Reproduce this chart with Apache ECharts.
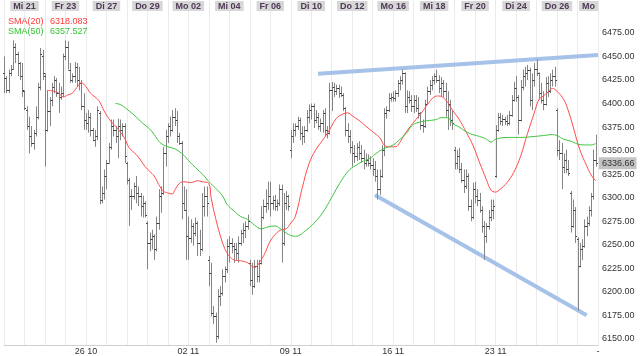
<!DOCTYPE html>
<html><head><meta charset="utf-8">
<script src="https://cdn.jsdelivr.net/npm/echarts@6/dist/echarts.min.js"></script>
<style>html,body{margin:0;padding:0;background:#fff}#c{width:640px;height:356px}</style>
</head><body><div id="c"></div>
<script>
// ---- data ----
const dayDates = ['20.10','21.10','22.10','23.10','26.10','27.10','28.10','29.10','30.10','02.11','03.11','04.11','05.11','06.11','09.11','10.11','11.11','12.11','13.11','16.11','17.11','18.11','19.11','20.11','23.11','24.11','25.11','26.11','27.11','30.11'];
const hours = ['09','10','11','12','13','14','15','16','17'];
const topLabels = ['Mi 21','Fr 23','Di 27','Do 29','Mo 02','Mi 04','Fr 06','Di 10','Do 12','Mo 16','Mi 18','Fr 20','Di 24','Do 26','Mo'];
const weekLabels = ['26 10','02 11','09 11','16 11','23 11','-'];
const weekStartDays = [4, 9, 14, 19, 24, 29];
const yTicks = [6150,6175,6200,6225,6250,6275,6300,6325,6350,6375,6400,6425,6450,6475];
// hourly bars: [open, high, low, close]
const ohlc = [
 [6432,6450,6411,6427],[6427,6429,6411,6414],[6414,6436,6411,6432],[6432,6441,6429,6437],[6437,6467,6436,6460],[6460,6464,6443,6453],[6453,6455,6429,6443],[6443,6444,6425,6429],[6429,6443,6407,6414],
 [6413,6414,6393,6395],[6393,6397,6372,6376],[6376,6386,6347,6365],[6365,6376,6354,6358],[6358,6372,6351,6369],[6369,6397,6365,6386],[6386,6422,6383,6418],[6418,6459,6414,6453],[6450,6457,6425,6432],
 [6429,6432,6333,6372],[6372,6414,6370,6392],[6392,6407,6376,6404],[6404,6422,6397,6418],[6418,6429,6411,6425],[6425,6427,6407,6411],[6411,6422,6390,6407],[6407,6418,6404,6411],[6411,6453,6407,6450],
 [6450,6467,6446,6460],[6460,6466,6436,6436],[6436,6443,6422,6425],[6425,6432,6422,6429],[6429,6444,6422,6439],[6439,6443,6418,6425],[6425,6439,6414,6422],[6422,6425,6393,6397],[6397,6411,6372,6383],
 [6383,6390,6372,6379],[6379,6393,6369,6386],[6386,6390,6365,6372],[6372,6374,6360,6361],[6361,6372,6354,6365],[6365,6397,6361,6393],[6390,6392,6293,6298],[6298,6312,6294,6305],[6305,6330,6298,6323],
 [6323,6340,6309,6337],[6337,6358,6337,6354],[6354,6383,6351,6376],[6376,6383,6365,6372],[6372,6376,6358,6365],[6365,6384,6342,6376],[6376,6383,6361,6372],[6372,6379,6365,6376],[6376,6379,6337,6344],
 [6337,6338,6314,6319],[6319,6321,6270,6302],[6302,6309,6287,6302],[6302,6316,6298,6312],[6312,6323,6294,6305],[6305,6312,6291,6302],[6302,6305,6280,6291],[6291,6302,6279,6294],[6294,6296,6279,6282],
 [6273,6275,6224,6252],[6252,6263,6243,6256],[6256,6266,6245,6259],[6259,6261,6234,6245],[6245,6280,6243,6273],[6273,6309,6266,6302],[6302,6312,6284,6305],[6305,6354,6303,6347],[6347,6372,6333,6365],
 [6365,6379,6358,6376],[6376,6386,6365,6372],[6372,6393,6370,6386],[6386,6395,6376,6383],[6383,6392,6358,6365],[6365,6369,6356,6358],[6358,6360,6277,6294],[6294,6312,6286,6287],[6287,6309,6234,6259],
 [6259,6280,6234,6257],[6257,6277,6252,6270],[6270,6273,6249,6263],[6263,6279,6259,6273],[6273,6275,6238,6252],[6252,6266,6238,6245],[6245,6305,6243,6291],[6291,6312,6280,6302],[6302,6312,6280,6294],
 [6234,6238,6206,6220],[6220,6231,6174,6178],[6178,6185,6166,6174],[6174,6178,6146,6153],[6153,6203,6150,6196],[6196,6206,6185,6199],[6199,6224,6196,6217],[6217,6227,6210,6224],[6224,6256,6220,6249],
 [6249,6259,6231,6252],[6252,6257,6241,6249],[6249,6252,6231,6245],[6245,6252,6234,6241],[6241,6259,6231,6252],[6252,6266,6249,6263],[6263,6273,6252,6266],[6266,6275,6257,6270],[6270,6282,6266,6275],
 [6231,6234,6206,6213],[6213,6231,6197,6206],[6206,6234,6204,6227],[6227,6234,6210,6217],[6217,6234,6210,6231],[6231,6291,6229,6280],[6280,6298,6277,6291],[6291,6309,6284,6294],[6294,6317,6287,6302],
 [6302,6317,6280,6294],[6294,6302,6287,6298],[6298,6303,6286,6291],[6291,6298,6286,6294],[6294,6314,6291,6309],[6309,6314,6231,6252],[6252,6305,6249,6294],[6294,6307,6287,6302],[6302,6303,6286,6291],
 [6351,6372,6342,6365],[6365,6379,6358,6372],[6372,6379,6365,6376],[6376,6386,6372,6383],[6383,6385,6361,6369],[6369,6376,6356,6365],[6365,6376,6358,6372],[6372,6393,6370,6386],[6386,6399,6379,6393],
 [6393,6400,6383,6397],[6397,6400,6374,6383],[6383,6393,6379,6386],[6386,6390,6372,6376],[6376,6384,6370,6379],[6379,6393,6369,6390],[6390,6395,6365,6372],[6372,6376,6363,6369],[6369,6422,6367,6414],
 [6414,6423,6392,6418],[6418,6422,6407,6413],[6413,6420,6409,6416],[6416,6420,6406,6411],[6411,6418,6407,6409],[6409,6411,6392,6395],[6395,6396,6365,6372],[6372,6379,6358,6365],[6365,6372,6347,6354],
 [6354,6360,6333,6347],[6347,6356,6337,6344],[6344,6358,6339,6354],[6354,6360,6340,6347],[6347,6356,6337,6342],[6342,6351,6330,6337],[6337,6347,6333,6340],[6340,6346,6333,6337],[6337,6344,6330,6335],
 [6335,6342,6323,6330],[6330,6339,6317,6323],[6323,6330,6298,6309],[6309,6330,6303,6323],[6323,6356,6321,6351],[6351,6395,6344,6390],[6390,6397,6384,6393],[6393,6411,6391,6406],[6406,6411,6402,6407],
 [6407,6413,6402,6406],[6406,6414,6402,6411],[6411,6425,6407,6422],[6422,6429,6414,6425],[6425,6436,6420,6432],[6432,6433,6390,6397],[6397,6414,6390,6407],[6407,6413,6400,6404],[6404,6409,6391,6397],
 [6397,6409,6390,6404],[6404,6409,6391,6395],[6395,6407,6384,6390],[6390,6391,6372,6377],[6377,6383,6369,6376],[6376,6404,6374,6400],[6400,6418,6399,6413],[6413,6425,6409,6420],[6420,6429,6414,6425],
 [6425,6432,6420,6429],[6429,6436,6422,6425],[6425,6430,6411,6416],[6416,6428,6407,6422],[6422,6425,6407,6413],[6413,6422,6386,6393],[6393,6413,6372,6400],[6400,6404,6376,6383],[6383,6393,6372,6379],
 [6351,6354,6330,6337],[6337,6351,6330,6344],[6344,6353,6326,6330],[6330,6337,6316,6319],[6319,6330,6305,6312],[6312,6330,6309,6323],[6323,6326,6286,6291],[6291,6298,6275,6280],[6280,6316,6277,6309],
 [6309,6317,6294,6302],[6302,6309,6291,6298],[6298,6305,6284,6287],[6287,6291,6263,6270],[6270,6275,6234,6259],[6259,6273,6252,6270],[6270,6287,6266,6280],[6280,6298,6275,6287],[6287,6298,6277,6291],
 [6323,6377,6321,6372],[6372,6390,6370,6386],[6386,6390,6377,6381],[6381,6388,6376,6384],[6384,6386,6377,6381],[6381,6388,6376,6379],[6379,6392,6377,6388],[6388,6409,6386,6404],[6404,6423,6402,6416],
 [6416,6429,6402,6407],[6407,6409,6367,6383],[6383,6425,6381,6418],[6418,6436,6414,6429],[6429,6439,6418,6432],[6432,6441,6425,6436],[6436,6438,6397,6404],[6404,6432,6393,6425],[6425,6443,6418,6437],
 [6437,6447,6429,6432],[6432,6433,6404,6411],[6411,6422,6400,6404],[6404,6413,6393,6400],[6400,6428,6398,6422],[6422,6429,6407,6413],[6413,6432,6411,6425],[6425,6436,6418,6429],[6429,6439,6418,6425],
 [6393,6395,6344,6351],[6351,6361,6340,6347],[6347,6358,6309,6333],[6333,6347,6326,6340],[6340,6351,6326,6330],[6330,6340,6323,6326],[6305,6307,6263,6270],[6270,6298,6268,6287],[6287,6290,6252,6259],
 [6256,6258,6180,6228],[6228,6252,6226,6245],[6245,6256,6234,6249],[6249,6277,6247,6270],[6270,6280,6259,6273],[6273,6291,6270,6287],[6287,6305,6280,6302],[6302,6351,6298,6340],[6340,6367,6333,6336.66]
];
// SMA values: [bar index, value]
const sma20 = [[19,6414],[22,6413],[24,6411],[26,6407],[28,6409],[30,6411],[32,6417],[34,6422],[36,6418],[38,6411],[40,6407],[42,6402],[44,6392],[47,6381],[49,6376],[51,6370],[53,6363],[55,6353],[58,6346],[60,6340],[62,6333],[64,6328],[66,6323],[68,6314],[70,6307],[72,6305],[74,6304],[75,6308],[77,6315],[79,6317],[82,6316],[85,6318],[87,6317],[90,6315],[91,6300],[93,6278],[95,6260],[97,6246],[99,6238],[101,6234],[104,6233],[107,6231],[110,6226],[113,6234],[115,6243],[117,6254],[120,6263],[122,6266],[124,6267],[126,6273],[128,6280],[131,6310],[134,6336],[137,6351],[140,6361],[143,6372],[146,6384],[149,6389],[151,6390],[153,6387],[156,6382],[159,6376],[162,6370],[165,6364],[167,6356],[169,6354],[172,6354],[174,6359],[176,6367],[178,6374],[181,6383],[184,6392],[187,6402],[189,6407],[191,6408],[194,6404],[197,6393],[200,6383],[203,6370],[206,6356],[209,6337],[212,6319],[214,6308],[216,6306],[218,6309],[221,6316],[224,6327],[227,6344],[230,6368],[233,6390],[235,6404],[237,6408],[239,6412],[241,6416],[243,6413],[246,6404],[248,6392],[250,6376],[253,6351],[256,6334],[258,6324],[260,6318.083]];
const sma50 = [[49,6400],[51,6399],[53,6396],[55,6392],[58,6386],[60,6381],[62,6377],[64,6373],[66,6367],[68,6360],[70,6356],[72,6354],[75,6352],[77,6349],[79,6345],[82,6337],[85,6330],[88,6323],[90,6317],[93,6310],[96,6302],[98,6293],[101,6286],[104,6280],[107,6277],[110,6271],[113,6267],[116,6269],[119,6270],[122,6266],[125,6261],[128,6259],[133,6266],[137,6275],[140,6284],[143,6296],[146,6309],[149,6321],[152,6330],[155,6335],[158,6339],[161,6342],[163,6346],[166,6351],[169,6354],[171,6356],[174,6362],[177,6369],[179,6376],[181,6379],[184,6381],[187,6382],[190,6383],[192,6385],[195,6385],[197,6379],[200,6375],[203,6370],[206,6367],[209,6365],[212,6362],[214,6359],[216,6362],[221,6364],[227,6364],[233,6365],[237,6366],[241,6367],[243,6366],[246,6362],[249,6360],[252,6357],[255,6356],[258,6356],[260,6357.527]];
// drawn trend lines: [bar index, price]
const upperTrend = [[138,6431.6],[261,6451.6]];
const lowerTrend = [[163,6302.8],[256,6175.3]];

// ---- build ----
const barsPerDay = 9;
const categories = [];
dayDates.forEach((d, di) => {
  const n = di === dayDates.length - 1 ? 1 : barsPerDay;
  for (let h = 0; h < n; h++) categories.push(d + ' ' + hours[h] + ':00');
});
const barRows = ohlc.map((b, i) => [i, b[0], b[1], b[2], b[3]]);
const lastClose = ohlc[ohlc.length - 1][3];
const last20 = sma20[sma20.length - 1][1].toFixed(3);
const last50 = sma50[sma50.length - 1][1].toFixed(3);
const FONT = '"Liberation Sans", Arial, sans-serif';

const chart = echarts.init(document.getElementById('c'), null, {renderer: 'canvas'});
chart.setOption({
  animation: false,
  textStyle: {fontFamily: FONT},
  grid: {left: 4, right: 42, top: 0, bottom: 10},
  legend: {
    data: ['SMA(20)', 'SMA(50)'], orient: 'vertical', left: -2, top: 12,
    icon: 'none', itemWidth: 0, itemHeight: 8, itemGap: 1, selectedMode: false,
    textStyle: {fontSize: 9, fontFamily: FONT,
      rich: {a: {color: '#ff3a3a', width: 42, fontSize: 9}, av: {color: '#ff3a3a', fontSize: 9},
             b: {color: '#33c433', width: 42, fontSize: 9}, bv: {color: '#33c433', fontSize: 9}}},
    formatter: name => name === 'SMA(20)' ? '{a|' + name + '}{av|' + last20 + '}' : '{b|' + name + '}{bv|' + last50 + '}'
  },
  xAxis: [{
    type: 'category', data: categories, boundaryGap: false, position: 'bottom',
    axisLine: {lineStyle: {color: '#d0d0d0'}}, axisTick: {show: false},
    axisLabel: {
      interval: i => i % barsPerDay === 0 && weekStartDays.indexOf(i / barsPerDay) >= 0,
      formatter: (v, i) => weekLabels[weekStartDays.indexOf(i / barsPerDay)],
      fontSize: 9, color: '#333', margin: 2, fontFamily: FONT
    },
    splitLine: {show: true, interval: i => i % barsPerDay === 0, lineStyle: {color: '#ebebeb', width: 1}}
  }, {
    type: 'category', data: categories, boundaryGap: false, position: 'top',
    axisLine: {show: false}, axisTick: {show: false}, splitLine: {show: false},
    axisLabel: {
      inside: true, alignMaxLabel: 'right',
      interval: i => i % (2 * barsPerDay) === barsPerDay,
      formatter: (v, i) => topLabels[(i / barsPerDay - 1) / 2],
      fontSize: 9, fontWeight: 'bold', color: '#4e3856', backgroundColor: '#d7d7d7',
      padding: [1, 3, 0, 3], margin: 1, fontFamily: FONT
    }
  }],
  yAxis: {
    type: 'value', position: 'right', min: 6143.6, max: 6509.9, scale: true,
    axisLine: {show: false}, axisTick: {show: false}, splitLine: {show: false},
    axisLabel: {customValues: yTicks, formatter: v => v.toFixed(2), fontSize: 9, color: '#333', margin: 4, fontFamily: FONT}
  },
  series: [
    {type: 'line', name: 'upper', data: upperTrend, symbol: 'none', z: 1,
     lineStyle: {color: '#a6c2e8', width: 4}, silent: true},
    {type: 'line', name: 'lower', data: lowerTrend, symbol: 'none', z: 1,
     lineStyle: {color: '#a6c2e8', width: 4}, silent: true},
    {type: 'custom', name: 'OHLC', data: barRows, z: 2, silent: true,
     encode: {x: 0, y: [1, 2, 3, 4]},
     renderItem: (params, api) => {
       const i = api.value(0);
       const pO = api.coord([i, api.value(1)]), pH = api.coord([i, api.value(2)]);
       const pL = api.coord([i, api.value(3)]), pC = api.coord([i, api.value(4)]);
       const x = Math.round(pH[0]) + 0.5;
       const yo = Math.round(pO[1]) + 0.5, yc = Math.round(pC[1]) + 0.5;
       return {type: 'group', children: [
         {type: 'line', shape: {x1: x, y1: pH[1], x2: x, y2: pL[1]}, style: {stroke: '#858585', lineWidth: 1}},
         {type: 'line', shape: {x1: x - 1.5, y1: yo, x2: x, y2: yo}, style: {stroke: '#3c3c3c', lineWidth: 1}},
         {type: 'line', shape: {x1: x, y1: yc, x2: x + 1.5, y2: yc}, style: {stroke: '#3c3c3c', lineWidth: 1}}
       ]};
     }
    },
    {type: 'line', name: 'SMA(20)', data: sma20, symbol: 'none', smooth: 0.4, z: 3, silent: true,
     lineStyle: {color: '#ff4a4a', width: 1}, itemStyle: {color: '#ff4a4a'}},
    {type: 'line', name: 'SMA(50)', data: sma50, symbol: 'none', smooth: 0.4, z: 3, silent: true,
     lineStyle: {color: '#3ec43e', width: 1}, itemStyle: {color: '#3ec43e'},
     markLine: {silent: true, symbol: 'none', animation: false, data: [{yAxis: lastClose}],
       lineStyle: {color: 'rgba(0,0,0,0)', width: 0, type: 'solid'},
       label: {show: true, position: 'end', formatter: () => lastClose.toFixed(2), backgroundColor: '#c3c3c3', color: '#333',
               fontSize: 9, padding: [2, 2, 1, 3], distance: 1, fontFamily: FONT}}
    }
  ]
});
</script></body></html>
